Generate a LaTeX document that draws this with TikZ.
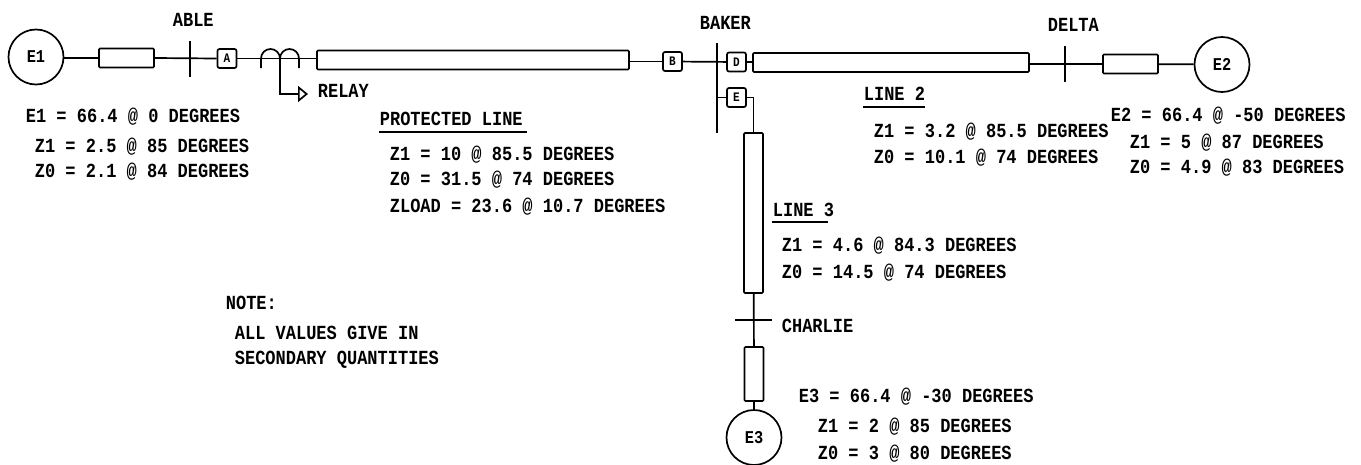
\documentclass[tikz,border=0pt]{standalone}
\usepackage{fontspec}
\setmonofont[FakeStretch=0.85]{Liberation Mono}
\usetikzlibrary{arrows.meta}
\begin{document}
\begin{tikzpicture}[x=1pt,y=-1pt,line width=1.7pt,
  source node/.style={circle,draw,inner sep=0pt,minimum size=55pt,font=\ttfamily\bfseries\fontsize{18}{18}\selectfont},
  line node/.style={rectangle,draw,rounded corners=1pt,inner sep=0pt},
  breaker node/.style={rectangle,draw,rounded corners=2pt,inner sep=0pt,minimum size=19pt,font=\ttfamily\bfseries\fontsize{13}{13}\selectfont},
  label node/.style={anchor=west,inner sep=0pt,font=\ttfamily\bfseries\fontsize{20}{20}\selectfont}]
  \useasboundingbox (0,0) rectangle (1361,464);

  % sources
  \node[source node] (e1) at (36,57) {E1};
  \node[source node] (e2) at (1222,64.5) {E2};
  \node[source node] (e3) at (754,437.5) {E3};

  % impedances
  \node[line node,minimum width=55pt,minimum height=19pt] (z1) at (126.5,58) {};
  \node[line node,minimum width=312pt,minimum height=19pt] (prot) at (473,60) {};
  \node[line node,minimum width=276pt,minimum height=19pt] (line2) at (891,62.5) {};
  \node[line node,minimum width=55pt,minimum height=19pt] (z2) at (1130.5,64) {};
  \node[line node,minimum width=19pt,minimum height=160pt] (line3) at (753.5,213) {};
  \node[line node,minimum width=19pt,minimum height=54pt] (z3) at (754,374) {};

  % breakers
  \node[breaker node] (a) at (227,58.5) {A};
  \node[breaker node] (b) at (672.5,61.5) {B};
  \node[breaker node] (d) at (736.5,62) {D};
  \node[breaker node] (e) at (736.5,97.5) {E};

  % buses
  \coordinate (ablet) at (190,41);
  \coordinate (ableb) at (190,77);
  \coordinate (bakert) at (717,43);
  \coordinate (bakerb) at (717,133);
  \coordinate (deltat) at (1065,46);
  \coordinate (deltab) at (1065,82);
  \coordinate (charliel) at (735,320);
  \coordinate (charlier) at (772,320);
  \draw (ablet) -- (ableb);
  \draw (bakert) -- (bakerb);
  \draw (deltat) -- (deltab);
  \draw (charliel) -- (charlier);

  % connections
  \draw (z1.west) -- (z1.west -| e1.east);
  \draw (z1.east) -- (a.west);
  \draw (a.east) -- (a.east -| prot.west);
  \draw (b.west) -- (b.west -| prot.east);
  \draw (b) -- (d);
  \draw (d) -- (line2);
  \draw (z2.west) -- (z2.west -| line2.east);
  \draw (z2) -- (e2);
  \draw (e.west) -- (e.west -| bakert);
  \draw (e.east) -| (line3.north);
  \draw (line3) -- (z3);
  \draw (z3) -- (e3);

  % current transformers
  \coordinate (ct1) at (261,68);
  \coordinate (tap) at (280,58);
  \draw (ct1) -- ++(0,-9.5) arc (180:360:9.5) -- ++(0,9.5) ++(0,-9.5) arc (180:360:9.5) -- ++(0,9.5);

  % relay
  \node[label node] (relay) at (317,91) {RELAY};
  \coordinate (tip) at (308,94);
  \draw[-{Triangle[open,length=10pt,width=16pt]}] (tap) |- (tip);

  % labels
  \node[label node] at (172,20) {ABLE};
  \node[label node] at (699,23) {BAKER};
  \node[label node] at (1047,25) {DELTA};
  \node[label node] at (781,326) {CHARLIE};

  \node[label node] at (25,117) {E1 = 66.4 @ 0 DEGREES};
  \node[label node] at (34,147) {Z1 = 2.5 @ 85 DEGREES};
  \node[label node] at (34,172) {Z0 = 2.1 @ 84 DEGREES};

  \node[label node] (protected) at (379,119) {PROTECTED LINE};
  \draw (protected.west) ++(0,13) -- ++(148,0);
  \node[label node] at (389,155) {Z1 = 10 @ 85.5 DEGREES};
  \node[label node] at (389,180) {Z0 = 31.5 @ 74 DEGREES};
  \node[label node] at (389,207) {ZLOAD = 23.6 @ 10.7 DEGREES};

  \node[label node] (l2) at (863,94) {LINE 2};
  \draw (l2.west) ++(0,13) -- ++(62,0);
  \node[label node] at (873,132) {Z1 = 3.2 @ 85.5 DEGREES};
  \node[label node] at (873,158) {Z0 = 10.1 @ 74 DEGREES};

  \node[label node] (l3) at (772,210) {LINE 3};
  \draw (l3.west) ++(0,12) -- ++(56,0);
  \node[label node] at (781,246) {Z1 = 4.6 @ 84.3 DEGREES};
  \node[label node] at (781,273) {Z0 = 14.5 @ 74 DEGREES};

  \node[label node] at (1110,116) {E2 = 66.4 @ -50 DEGREES};
  \node[label node] at (1129,143) {Z1 = 5 @ 87 DEGREES};
  \node[label node] at (1129,168) {Z0 = 4.9 @ 83 DEGREES};

  \node[label node] at (798,397) {E3 = 66.4 @ -30 DEGREES};
  \node[label node] at (817,427) {Z1 = 2 @ 85 DEGREES};
  \node[label node] at (817,454) {Z0 = 3 @ 80 DEGREES};

  \node[label node] at (225,303) {NOTE:};
  \node[label node] at (234,333) {ALL VALUES GIVE IN};
  \node[label node] at (234,360) {SECONDARY QUANTITIES};
\end{tikzpicture}
\end{document}
